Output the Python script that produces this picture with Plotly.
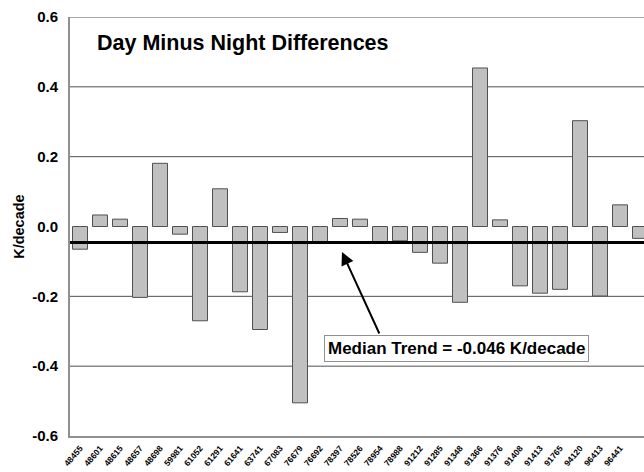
import plotly.graph_objects as go

stations = ['48455', '48601', '48615', '48657', '48698', '59981', '61052', '61291',
            '61641', '63741', '67083', '76679', '76692', '78397', '78526', '78954',
            '78988', '91212', '91285', '91348', '91366', '91376', '91408', '91413',
            '91765', '94120', '96413', '96441', '96471']
diff = [-0.065, 0.033, 0.021, -0.203, 0.181, -0.022, -0.270, 0.108,
        -0.187, -0.295, -0.017, -0.505, -0.048, 0.023, 0.021, -0.046,
        -0.041, -0.074, -0.105, -0.217, 0.454, 0.019, -0.170, -0.191,
        -0.180, 0.303, -0.199, 0.062, -0.034]
median_trend = -0.046
y_ticks = [-0.6, -0.4, -0.2, 0.0, 0.2, 0.4, 0.6]
grid_vals = [-0.4, -0.2, 0.2, 0.4, 0.6]

font = 'Arial, Liberation Sans, sans-serif'

fig = go.Figure()
fig.add_trace(go.Bar(
    x=list(range(len(stations))),
    y=diff,
    marker=dict(color='#c0c0c0', line=dict(color='#505050', width=1)),
    width=0.75,
))

# grid lines (no line at zero, as in the original)
for g in grid_vals:
    fig.add_shape(type='line', xref='paper', x0=0, x1=1, y0=g, y1=g,
                  line=dict(color='#505050', width=1), layer='below')

fig.add_shape(type='line', xref='paper', x0=0, x1=1, y0=median_trend, y1=median_trend,
              line=dict(color='black', width=3), layer='above')

fig.add_annotation(x=0.043, y=0.526, xref='paper', yref='y', xanchor='left', yanchor='middle',
                   text='<b>Day Minus Night Differences</b>', showarrow=False,
                   font=dict(family=font, size=21.5, color='black'))

fig.add_annotation(x=-0.09, y=0.5, xref='paper', yref='paper', textangle=-90,
                   xanchor='center', yanchor='middle',
                   text='<b>K/decade</b>', showarrow=False,
                   font=dict(family=font, size=14.5, color='black'))

fig.add_annotation(x=18.8, y=-0.35, text='<b>Median Trend = %.3f K/decade</b>' % median_trend,
                   showarrow=False, bgcolor='white', bordercolor='#909090', borderwidth=1,
                   borderpad=3, font=dict(family=font, size=17, color='black'))

fig.add_annotation(x=13.1, y=-0.073, ax=38, ay=83, text='', showarrow=True,
                   arrowhead=2, arrowsize=1.3, arrowwidth=2, arrowcolor='black')

fig.update_xaxes(
    range=[-0.5, 28.2],
    tickmode='array', tickvals=list(range(len(stations))),
    ticktext=['<b>%s</b>' % s for s in stations],
    tickangle=-50, tickfont=dict(family=font, size=8.5, color='black'),
    ticklabelstandoff=2,
    showgrid=False, zeroline=False, automargin=False,
    showline=True, linecolor='#909090', linewidth=2, ticks='',
)
fig.update_yaxes(
    range=[-0.6, 0.6],
    tickmode='array', tickvals=y_ticks, ticktext=['<b>%.1f</b>' % v for v in y_ticks],
    tickfont=dict(family=font, size=15, color='black'),
    ticklabelstandoff=7,
    showgrid=False, zeroline=False, automargin=False,
    showline=True, linecolor='#909090', linewidth=2, ticks='',
)

fig.update_layout(
    width=644, height=472,
    margin=dict(l=70, r=0, t=17, b=36),
    plot_bgcolor='white', paper_bgcolor='white',
    showlegend=False,
)

# drop the default page margin so the figure fills the window; no modebar
fig.write_html('out.html', config={'displayModeBar': False},
               post_script="document.body.style.margin='0';document.body.style.overflow='hidden';")
